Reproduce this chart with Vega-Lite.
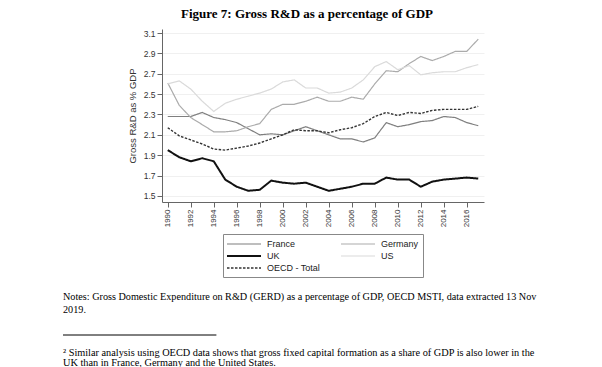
{
  "$schema": "https://vega.github.io/schema/vega-lite/v6.json",
  "background": "white",
  "padding": {"left": 62, "top": 8, "right": 5, "bottom": 0},
  "bounds": "flush",
  "center": true,
  "spacing": 87,
  "config": {
    "view": {"stroke": null},
    "font": "Liberation Sans",
    "axis": {"labelFont": "Liberation Sans", "titleFont": "Liberation Sans"}
  },
  "vconcat": [
    {
      "width": 322,
      "height": 173,
      "title": {
        "text": "Figure 7: Gross R&D as a percentage of GDP",
        "font": "Liberation Serif",
        "fontSize": 13,
        "fontWeight": "bold",
        "color": "#000000",
        "anchor": "middle",
        "baseline": "alphabetic",
        "offset": -2,
        "dx": -16
      },
      "data": {
        "values": [
          {"year": 1990, "France": 2.28, "Germany": 2.61, "UK": 1.95, "US": 2.60, "OECD - Total": 2.17},
          {"year": 1991, "France": 2.28, "Germany": 2.39, "UK": 1.88, "US": 2.63, "OECD - Total": 2.09},
          {"year": 1992, "France": 2.28, "Germany": 2.27, "UK": 1.84, "US": 2.55, "OECD - Total": 2.05},
          {"year": 1993, "France": 2.32, "Germany": 2.20, "UK": 1.87, "US": 2.43, "OECD - Total": 2.01},
          {"year": 1994, "France": 2.27, "Germany": 2.13, "UK": 1.84, "US": 2.33, "OECD - Total": 1.96},
          {"year": 1995, "France": 2.25, "Germany": 2.13, "UK": 1.66, "US": 2.41, "OECD - Total": 1.95},
          {"year": 1996, "France": 2.22, "Germany": 2.14, "UK": 1.59, "US": 2.45, "OECD - Total": 1.97},
          {"year": 1997, "France": 2.16, "Germany": 2.18, "UK": 1.55, "US": 2.48, "OECD - Total": 1.99},
          {"year": 1998, "France": 2.10, "Germany": 2.21, "UK": 1.56, "US": 2.51, "OECD - Total": 2.02},
          {"year": 1999, "France": 2.11, "Germany": 2.35, "UK": 1.65, "US": 2.55, "OECD - Total": 2.06},
          {"year": 2000, "France": 2.10, "Germany": 2.40, "UK": 1.63, "US": 2.62, "OECD - Total": 2.10},
          {"year": 2001, "France": 2.14, "Germany": 2.40, "UK": 1.62, "US": 2.64, "OECD - Total": 2.15},
          {"year": 2002, "France": 2.18, "Germany": 2.43, "UK": 1.63, "US": 2.56, "OECD - Total": 2.14},
          {"year": 2003, "France": 2.14, "Germany": 2.47, "UK": 1.59, "US": 2.56, "OECD - Total": 2.14},
          {"year": 2004, "France": 2.10, "Germany": 2.43, "UK": 1.55, "US": 2.51, "OECD - Total": 2.12},
          {"year": 2005, "France": 2.06, "Germany": 2.43, "UK": 1.57, "US": 2.52, "OECD - Total": 2.15},
          {"year": 2006, "France": 2.06, "Germany": 2.47, "UK": 1.59, "US": 2.56, "OECD - Total": 2.17},
          {"year": 2007, "France": 2.03, "Germany": 2.45, "UK": 1.62, "US": 2.64, "OECD - Total": 2.21},
          {"year": 2008, "France": 2.07, "Germany": 2.60, "UK": 1.62, "US": 2.77, "OECD - Total": 2.28},
          {"year": 2009, "France": 2.22, "Germany": 2.73, "UK": 1.68, "US": 2.82, "OECD - Total": 2.32},
          {"year": 2010, "France": 2.18, "Germany": 2.72, "UK": 1.66, "US": 2.74, "OECD - Total": 2.29},
          {"year": 2011, "France": 2.20, "Germany": 2.80, "UK": 1.66, "US": 2.78, "OECD - Total": 2.32},
          {"year": 2012, "France": 2.23, "Germany": 2.87, "UK": 1.59, "US": 2.69, "OECD - Total": 2.31},
          {"year": 2013, "France": 2.24, "Germany": 2.83, "UK": 1.64, "US": 2.71, "OECD - Total": 2.34},
          {"year": 2014, "France": 2.28, "Germany": 2.87, "UK": 1.66, "US": 2.72, "OECD - Total": 2.35},
          {"year": 2015, "France": 2.27, "Germany": 2.92, "UK": 1.67, "US": 2.72, "OECD - Total": 2.35},
          {"year": 2016, "France": 2.22, "Germany": 2.92, "UK": 1.68, "US": 2.76, "OECD - Total": 2.35},
          {"year": 2017, "France": 2.19, "Germany": 3.04, "UK": 1.67, "US": 2.79, "OECD - Total": 2.38}
        ]
      },
      "transform": [
        {"fold": ["France", "Germany", "UK", "US", "OECD - Total"], "as": ["series", "value"]}
      ],
      "mark": {"type": "line"},
      "encoding": {
        "x": {
          "field": "year",
          "type": "quantitative",
          "scale": {"domain": [1989.5, 2017.5], "nice": false, "zero": false},
          "axis": {
            "title": null,
            "values": [1990, 1992, 1994, 1996, 1998, 2000, 2002, 2004, 2006, 2008, 2010, 2012, 2014, 2016],
            "format": "d",
            "labelAngle": 270,
            "labelFontSize": 8,
            "labelColor": "#333333",
            "labelPadding": 2,
            "domainColor": "#666666",
            "tickColor": "#666666",
            "tickSize": 5,
            "grid": false
          }
        },
        "y": {
          "field": "value",
          "type": "quantitative",
          "scale": {"domain": [1.44, 3.14], "nice": false, "zero": false},
          "axis": {
            "title": "Gross R&D as % GDP",
            "titleFontSize": 9.5,
            "titleFontWeight": "normal",
            "titleColor": "#333333",
            "titlePadding": 6,
            "values": [1.5, 1.7, 1.9, 2.1, 2.3, 2.5, 2.7, 2.9, 3.1],
            "format": ".1f",
            "labelFontSize": 8.5,
            "labelColor": "#333333",
            "labelPadding": 2,
            "domainColor": "#666666",
            "tickColor": "#666666",
            "tickSize": 5,
            "grid": true,
            "gridColor": "#f0f0f0"
          }
        },
        "color": {
          "field": "series",
          "type": "nominal",
          "scale": {
            "domain": ["France", "Germany", "UK", "US", "OECD - Total"],
            "range": ["#7f7f7f", "#ababab", "#111111", "#dadada", "#333333"]
          },
          "legend": {
            "orient": "none",
            "legendX": 160,
            "legendY": 205,
            "columns": 2,
            "direction": "horizontal",
            "title": null,
            "symbolType": "M-3.4,0H3.4",
            "symbolSize": 100,
            "symbolOffset": 11,
            "labelOffset": 17,
            "labelFont": "Liberation Sans",
            "labelFontSize": 9,
            "labelColor": "#222222",
            "columnPadding": 17,
            "rowPadding": 1,
            "padding": 4,
            "strokeColor": "#888888",
            "fillColor": "white"
          }
        },
        "strokeDash": {
          "field": "series",
          "type": "nominal",
          "scale": {
            "domain": ["France", "Germany", "UK", "US", "OECD - Total"],
            "range": [[1, 0], [1, 0], [1, 0], [1, 0], [2.5, 1.5]]
          }
        },
        "strokeWidth": {
          "field": "series",
          "type": "nominal",
          "scale": {
            "type": "ordinal",
            "domain": ["France", "Germany", "UK", "US", "OECD - Total"],
            "range": [1.2, 1.2, 2, 1.2, 1.4]
          }
        }
      }
    },
    {
      "width": 520,
      "height": 80,
      "layer": [
        {
          "data": {
            "values": [
              {"row": 0.8, "text": "Notes: Gross Domestic Expenditure on R&D (GERD) as a percentage of GDP, OECD MSTI, data extracted 13 Nov"},
              {"row": 2.05, "text": "2019."}
            ]
          },
          "mark": {"type": "text", "align": "left", "baseline": "middle", "font": "Liberation Serif", "fontSize": 10.2, "color": "#000000"},
          "encoding": {
            "x": {"datum": 0, "type": "quantitative", "scale": {"domain": [0, 1], "nice": false}, "axis": null},
            "y": {"field": "row", "type": "quantitative", "scale": {"domain": [0, 8], "reverse": true, "nice": false}, "axis": null},
            "text": {"field": "text"}
          }
        },
        {
          "data": {"values": [{"row": 4.6, "start": 0, "end": 0.295}]},
          "mark": {"type": "rule", "color": "#000000", "strokeWidth": 1},
          "encoding": {
            "x": {"field": "start", "type": "quantitative"},
            "x2": {"field": "end"},
            "y": {"field": "row", "type": "quantitative"}
          }
        },
        {
          "data": {
            "values": [
              {"row": 6.35, "text": "² Similar analysis using OECD data shows that gross fixed capital formation as a share of GDP is also lower in the"},
              {"row": 7.4, "text": "UK than in France, Germany and the United States."}
            ]
          },
          "mark": {"type": "text", "align": "left", "baseline": "middle", "font": "Liberation Serif", "fontSize": 10.3, "color": "#000000"},
          "encoding": {
            "x": {"datum": 0, "type": "quantitative"},
            "y": {"field": "row", "type": "quantitative"},
            "text": {"field": "text"}
          }
        }
      ]
    }
  ]
}
